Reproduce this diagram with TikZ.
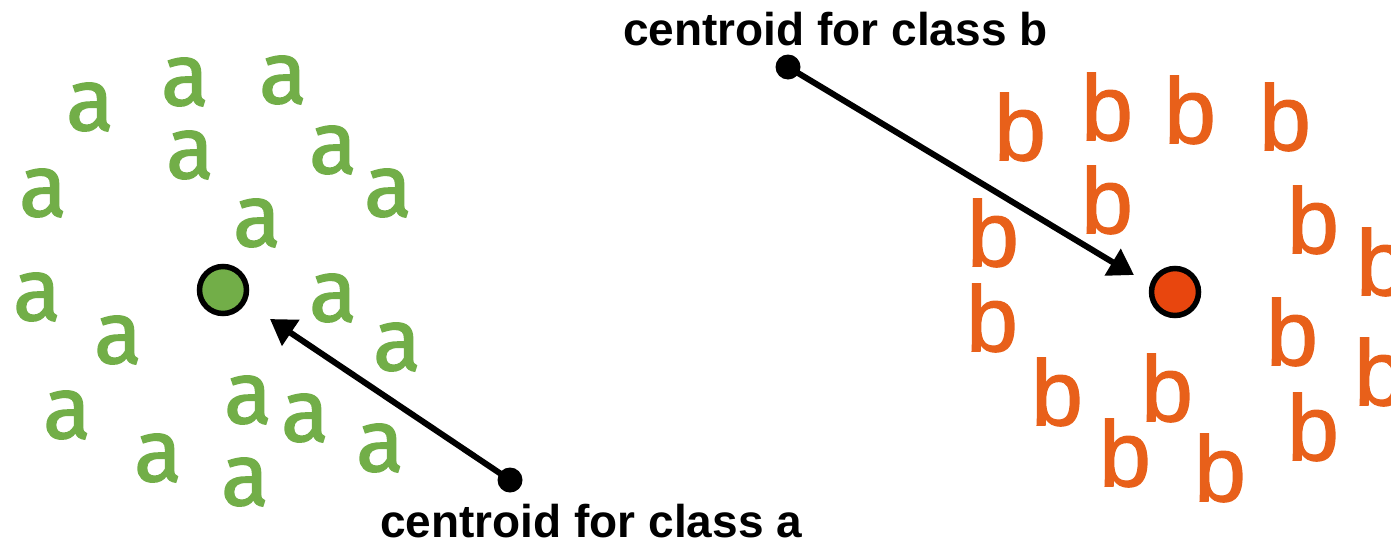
\documentclass[tikz,border=0pt]{standalone}
\usepackage{fontspec}
\usetikzlibrary{arrows.meta}
\newfontfamily\labelfont{Liberation Sans}
\newfontfamily\afont[FakeBold=1.6]{Fira Sans}
\newfontfamily\bfont[FakeBold=1.4]{Liberation Sans}
\definecolor{agreen}{RGB}{114,174,72}
\definecolor{borange}{RGB}{232,96,26}
\definecolor{bred}{RGB}{232,70,14}
\begin{document}
\begin{tikzpicture}[x=1pt,y=-1pt,
  pointa/.style={inner sep=0pt, text=agreen, font=\afont\fontsize{88}{90}\selectfont},
  pointb/.style={inner sep=0pt, text=borange, font=\bfont\fontsize{93}{95}\selectfont},
  centroid/.style={circle, draw=black, line width=5.5pt, minimum size=47pt, inner sep=0pt},
  pin/.style={circle, fill=black, minimum size=25pt, inner sep=0pt},
  caption/.style={inner sep=0pt, anchor=base west, font=\labelfont\bfseries\fontsize{46}{50}\selectfont},
  pointer/.style={line width=6pt, -{Triangle[length=25pt,width=30pt]}}]
\useasboundingbox (0,0) rectangle (1391,544);

% class a samples
\foreach \x/\y [count=\i] in {
  90/107, 185/82, 283/80, 190/155, 333/150, 388/193, 43/193, 257/223,
  37/297, 333/298, 118/340, 397/347, 67/415, 248/400, 305/418, 380/448,
  158/458, 245/482}
  \node[pointa] (a\i) at (\x,\y) {a};

% class b samples
\foreach \x/\y [count=\i] in {
  1020/127, 1107/107, 1190/110, 1285/117, 1107/200, 993/233, 1313/220,
  1382/262, 992/318, 1292/332, 1380/372, 1057/392, 1167/388, 1125/453,
  1220/468, 1313/427}
  \node[pointb] (b\i) at (\x,\y) {b};

% centroids
\node[centroid, fill=agreen] (ca) at (223,290) {};
\node[centroid, fill=bred] (cb) at (1175,292) {};

% pointers with captions
\node[pin] (pa) at (510,480) {};
\node[pin] (pb) at (788,67) {};
\coordinate (tipa) at (270,319);
\coordinate (tipb) at (1134,275);
\draw[pointer] (pa.center) -- (tipa);
\draw[pointer] (pb.center) -- (tipb);

\node[caption] (la) at (380,537) {centroid for class a};
\node[caption] (lb) at (623,45) {centroid for class b};
\end{tikzpicture}
\end{document}
